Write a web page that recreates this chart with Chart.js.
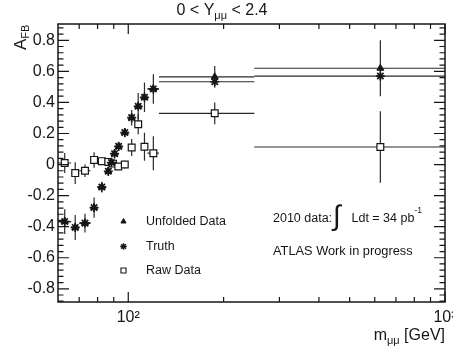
<!DOCTYPE html>
<html>
<head>
<meta charset="utf-8">
<script src="https://cdn.jsdelivr.net/npm/chart.js@4.4.1/dist/chart.umd.min.js"></script>
<style>
  html, body { margin: 0; padding: 0; background: #fff; }
</style>
</head>
<body>
<canvas id="afbChart" width="453" height="350"></canvas>
<script>
// A_FB vs dimuon mass
var truthMass = [63, 68, 73, 78, 82.5, 86.5, 88.5, 90.5, 93.25, 97.5, 102.5, 107.5, 112.5, 120, 187.5, 625];
var truthLow  = [60, 66, 70, 76, 80, 85, 87.5, 89.5, 91.5, 95, 100, 105, 110, 115, 125, 250];
var truthHigh = [66, 70, 76, 80, 85, 87.5, 89.5, 91.5, 95, 100, 105, 110, 115, 125, 250, 1000];
var truthAfb  = [-0.367, -0.405, -0.377, -0.277, -0.145, -0.043, 0.013, 0.07, 0.117, 0.206, 0.302, 0.375, 0.433, 0.487, 0.533, 0.57];

var unfoldedAfb = [-0.367, -0.405, -0.377, -0.277, -0.145, -0.043, 0.013, 0.07, 0.117, 0.206, 0.302, 0.375, 0.433, 0.487, 0.565, 0.62];
var unfoldedErr = [0.08, 0.08, 0.06, 0.065, 0.035, 0.03, 0.03, 0.03, 0.03, 0.03, 0.05, 0.085, 0.095, 0.095, 0.07, 0.18];

var rawMass = [63, 68, 73, 78, 82.5, 86.5, 89.5, 93, 97.5, 102.5, 107.5, 112.5, 120, 187.5, 625];
var rawLow  = [60, 66, 70, 76, 80, 85, 88, 91, 95, 100, 105, 110, 115, 125, 250];
var rawHigh = [66, 70, 76, 80, 85, 88, 91, 95, 100, 105, 110, 115, 125, 250, 1000];
var rawAfb  = [0.01, -0.055, -0.04, 0.03, 0.022, 0.017, 0.006, -0.013, 0.0, 0.11, 0.26, 0.115, 0.073, 0.33, 0.113];
var rawErr  = [0.065, 0.07, 0.04, 0.05, 0.025, 0.02, 0.02, 0.02, 0.025, 0.055, 0.065, 0.09, 0.11, 0.07, 0.23];

var xTicks = [100, 1000];
var xTickLabels = ['10\u00b2', '10\u00b3'];
var xMinorTicks = [70, 80, 90, 200, 300, 400, 500, 600, 700, 800, 900];
var yTicks = [-0.8, -0.6, -0.4, -0.2, 0, 0.2, 0.4, 0.6, 0.8];
var yTickLabels = ['-0.8', '-0.6', '-0.4', '-0.2', '0', '0.2', '0.4', '0.6', '0.8'];

var FONT = '"Liberation Sans", Arial, Helvetica, sans-serif';
var INK = '#161616';

function points(xs, ys) {
    return xs.map(function(x, i) { return { x: x, y: ys[i] }; });
}

// draw a run of text pieces [text, size, dy] (for sub/superscripts)
function drawRich(ctx, x, y, parts, align) {
    var total = 0;
    parts.forEach(function(p) {
        ctx.font = p[1] + 'px ' + FONT;
        p.w = ctx.measureText(p[0]).width;
        total += p.w;
    });
    var cx = align === 'right' ? x - total : (align === 'center' ? x - total / 2 : x);
    parts.forEach(function(p) {
        ctx.font = p[1] + 'px ' + FONT;
        ctx.fillText(p[0], cx, y + p[2]);
        cx += p.w;
    });
}

function drawErrors(ctx, xs, ys, errs, lows, highs) {
    var sx = ctx.chart.scales.x, sy = ctx.chart.scales.y;
    xs.forEach(function(m, i) {
        var px = sx.getPixelForValue(m);
        var py = sy.getPixelForValue(ys[i]);
        ctx.beginPath();
        ctx.moveTo(sx.getPixelForValue(lows[i]), py);
        ctx.lineTo(sx.getPixelForValue(highs[i]), py);
        if (errs) {
            ctx.moveTo(px, sy.getPixelForValue(ys[i] + errs[i]));
            ctx.lineTo(px, sy.getPixelForValue(ys[i] - errs[i]));
        }
        ctx.stroke();
    });
}

var rootStyle = {
    id: 'rootStyle',
    beforeDatasetsDraw: function(chart) {
        var ctx = chart.ctx, a = chart.chartArea;
        ctx.chart = chart;
        ctx.save();
        ctx.beginPath();
        ctx.rect(a.left, a.top, a.right - a.left, a.bottom - a.top);
        ctx.clip();
        ctx.strokeStyle = '#2a2a2a';
        ctx.lineWidth = 1.2;
        drawErrors(ctx, truthMass, unfoldedAfb, unfoldedErr, truthLow, truthHigh);
        drawErrors(ctx, truthMass, truthAfb, null, truthLow, truthHigh);
        drawErrors(ctx, rawMass, rawAfb, rawErr, rawLow, rawHigh);
        ctx.restore();
    },
    afterDraw: function(chart) {
        var ctx = chart.ctx, a = chart.chartArea;
        var sx = chart.scales.x, sy = chart.scales.y;
        ctx.save();

        // frame
        ctx.strokeStyle = INK;
        ctx.lineWidth = 1.5;
        ctx.strokeRect(a.left, a.top, a.right - a.left, a.bottom - a.top);

        // inward ticks on all four sides
        ctx.lineWidth = 1.2;
        ctx.beginPath();
        function xTick(v, len) {
            var px = sx.getPixelForValue(v);
            ctx.moveTo(px, a.bottom); ctx.lineTo(px, a.bottom - len);
            ctx.moveTo(px, a.top); ctx.lineTo(px, a.top + len);
        }
        function yTick(v, len) {
            var py = sy.getPixelForValue(v);
            ctx.moveTo(a.left, py); ctx.lineTo(a.left + len, py);
            ctx.moveTo(a.right, py); ctx.lineTo(a.right - len, py);
        }
        xTicks.forEach(function(v) { xTick(v, 10); });
        xMinorTicks.forEach(function(v) { xTick(v, 5); });
        for (var k = -22; k <= 22; k++) {
            var v = k * 0.04;
            yTick(v, k % 5 === 0 ? 11 : 5.5);
        }
        ctx.stroke();

        ctx.fillStyle = INK;
        ctx.textBaseline = 'alphabetic';

        // title and axis titles
        drawRich(ctx, 222, 15, [['0 < Y', 16, 0], ['\u03bc\u03bc', 11, 4], [' < 2.4', 16, 0]], 'center');
        drawRich(ctx, 445, 340, [['m', 16, 0], ['\u03bc\u03bc', 11, 4], [' [GeV]', 16, 0]], 'right');
        ctx.save();
        ctx.translate(26, 50);
        ctx.rotate(-Math.PI / 2);
        drawRich(ctx, 0, 0, [['A', 17, 0], ['FB', 11, 3]], 'left');
        ctx.restore();

        // annotations
        drawRich(ctx, 273, 221.5, [['2010 data:', 12.5, 0]], 'left');
        drawRich(ctx, 333, 225, [['\u222b', 28, 0]], 'left');
        drawRich(ctx, 351.5, 221.5, [['Ldt = 34 pb', 12.5, 0], ['-1', 8.5, -9]], 'left');
        drawRich(ctx, 273, 255, [['ATLAS Work in progress', 12.8, 0]], 'left');

        // legend inside the frame
        var legendY = [221.5, 246.5, 270.5];
        var legendMarks = [
            { pointStyle: 'triangle', radius: 3, fill: INK, bw: 1 },
            { pointStyle: 'star', radius: 3.3, fill: INK, bw: 1.4 },
            { pointStyle: 'rect', radius: 3.6, fill: '#fff', bw: 1.1 }
        ];
        chart.data.datasets.forEach(function(ds, i) {
            var mk = legendMarks[i];
            ctx.fillStyle = mk.fill;
            ctx.strokeStyle = INK;
            ctx.lineWidth = mk.bw;
            Chart.helpers.drawPoint(ctx, { pointStyle: mk.pointStyle, radius: mk.radius, rotation: 0, borderWidth: mk.bw }, 123.5, legendY[i]);
            ctx.fillStyle = INK;
            ctx.textBaseline = 'middle';
            ctx.font = '12.5px ' + FONT;
            ctx.fillText(ds.label, 146, legendY[i]);
        });
        ctx.restore();
    }
};

var ctx = document.getElementById('afbChart').getContext('2d');
var afbChart = new Chart(ctx, {
    type: 'scatter',
    data: {
        datasets: [{
            label: 'Unfolded Data',
            data: points(truthMass, unfoldedAfb),
            pointStyle: 'triangle',
            pointRadius: 4,
            backgroundColor: INK,
            borderColor: INK,
            borderWidth: 1
        }, {
            label: 'Truth',
            data: points(truthMass, truthAfb),
            pointStyle: 'star',
            pointRadius: 4.5,
            backgroundColor: INK,
            borderColor: INK,
            borderWidth: 1.7
        }, {
            label: 'Raw Data',
            data: points(rawMass, rawAfb),
            pointStyle: 'rect',
            pointRadius: 4.8,
            backgroundColor: '#fff',
            borderColor: INK,
            borderWidth: 1.2
        }]
    },
    options: {
        responsive: false,
        animation: false,
        events: [],
        layout: { padding: { top: 24, right: 8, left: 0, bottom: 0 } },
        plugins: {
            legend: { display: false },
            tooltip: { enabled: false }
        },
        scales: {
            x: {
                type: 'logarithmic',
                min: 60,
                max: 1000,
                grid: { display: false, drawTicks: false },
                border: { display: false },
                afterBuildTicks: function(scale) {
                    scale.ticks = xTicks.map(function(v) { return { value: v }; });
                },
                afterFit: function(scale) {
                    scale.height = 48;
                    scale.paddingLeft = 0;
                    scale.paddingRight = 0;
                },
                ticks: {
                    autoSkip: false,
                    maxRotation: 0,
                    padding: 6,
                    color: INK,
                    font: { family: FONT, size: 16 },
                    callback: function(value) {
                        var i = xTicks.indexOf(value);
                        return i >= 0 ? xTickLabels[i] : '';
                    }
                }
            },
            y: {
                min: -0.885,
                max: 0.905,
                grid: { display: false, drawTicks: false },
                border: { display: false },
                afterBuildTicks: function(scale) {
                    scale.ticks = yTicks.map(function(v) { return { value: v }; });
                },
                afterFit: function(scale) {
                    scale.width = 58;
                    scale.paddingTop = 0;
                    scale.paddingBottom = 0;
                },
                ticks: {
                    autoSkip: false,
                    padding: 3,
                    color: INK,
                    font: { family: FONT, size: 16 },
                    callback: function(value) {
                        var i = yTicks.indexOf(value);
                        return i >= 0 ? yTickLabels[i] : '';
                    }
                }
            }
        }
    },
    plugins: [rootStyle]
});
</script>
</body>
</html>
